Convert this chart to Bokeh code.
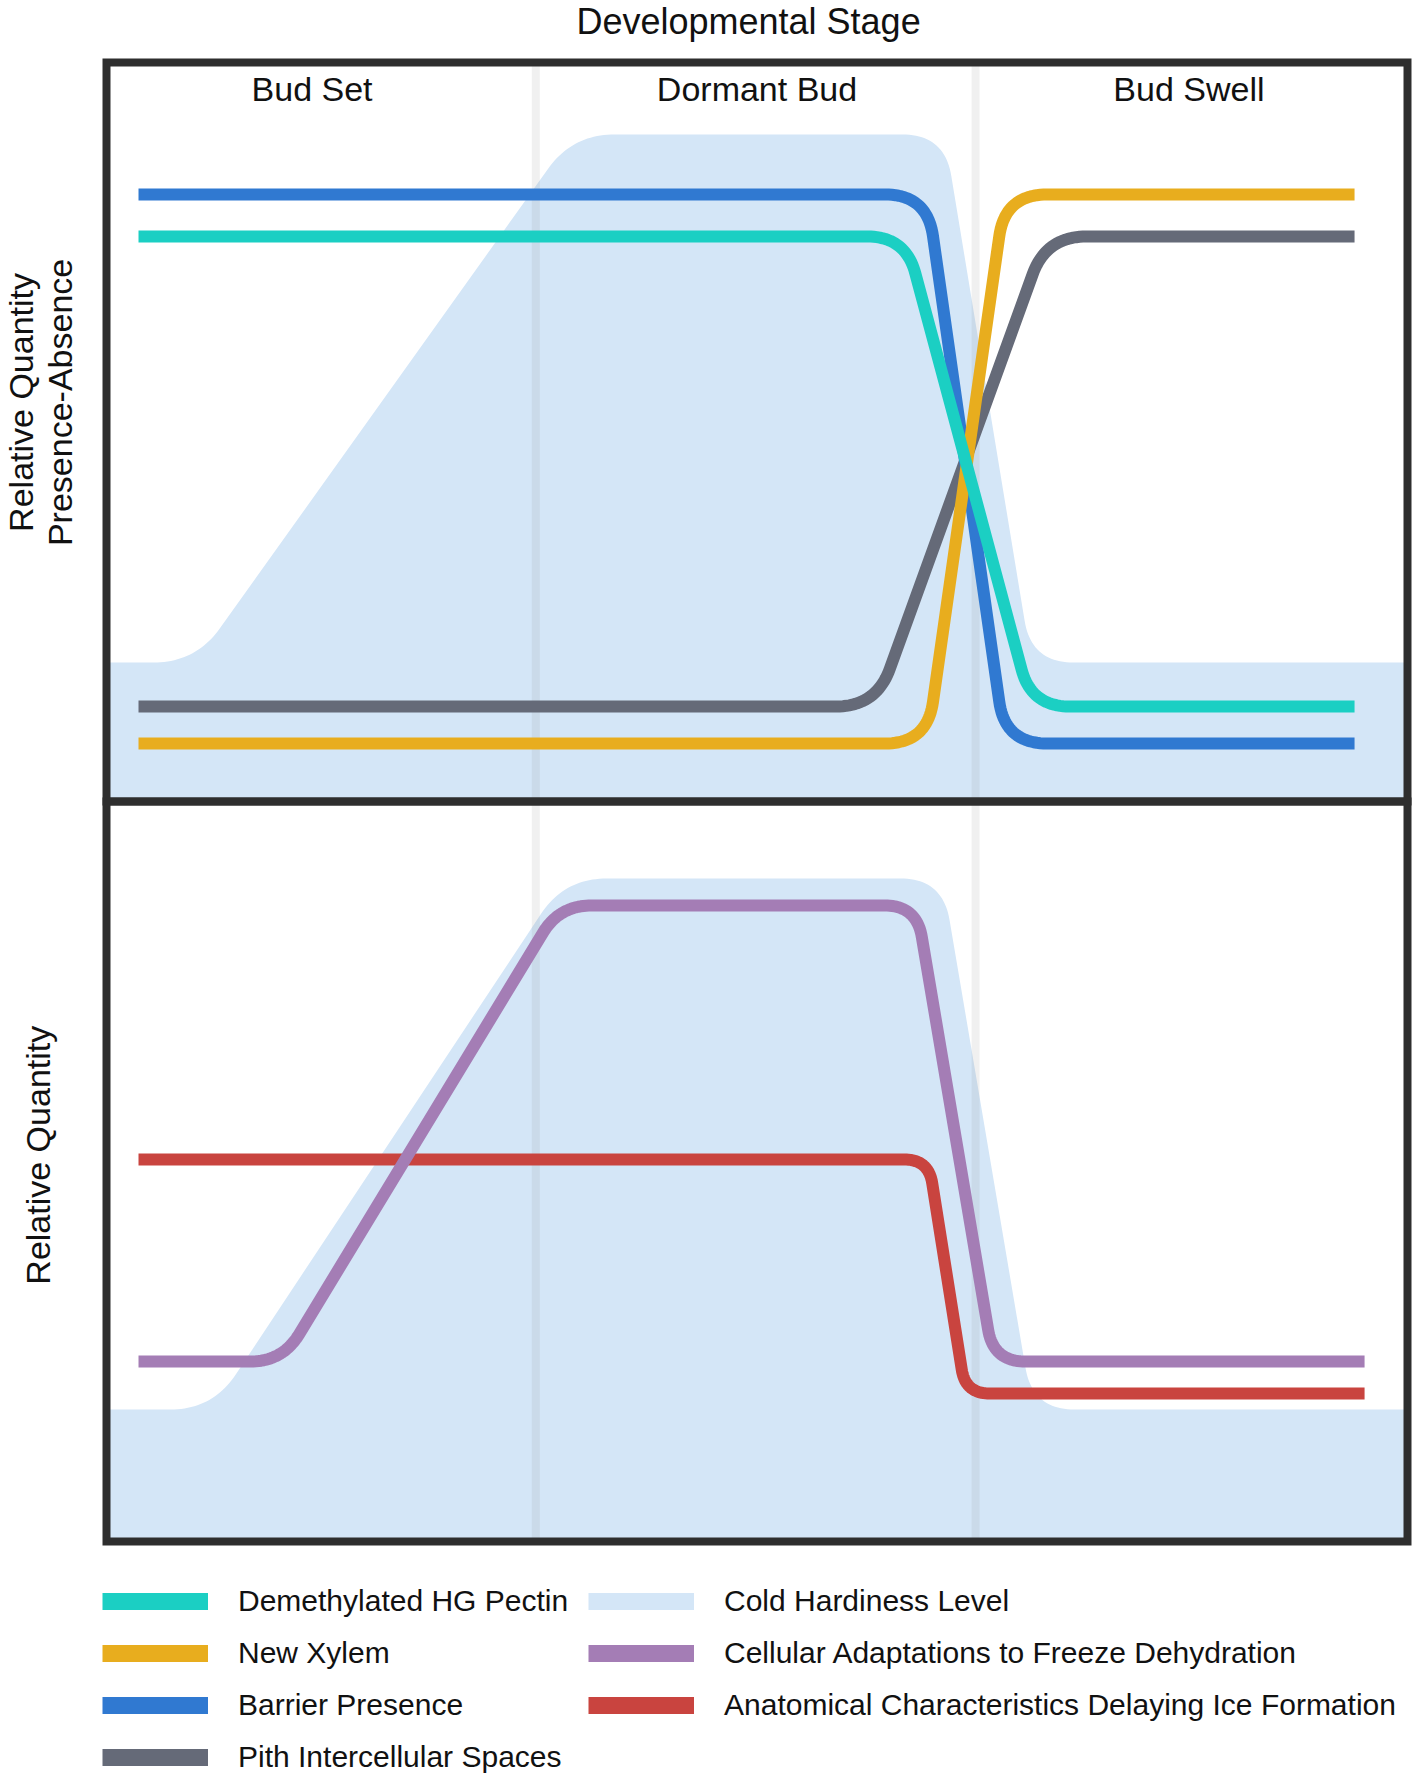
import math
import numpy as np
from bokeh.plotting import figure
from bokeh.models import Range1d, Legend, LegendItem
from bokeh.core.properties import value
from bokeh.embed import file_html
from bokeh.resources import INLINE

FONT = "Liberation Sans"

# ---------------- data (x: developmental time 0-100, y: relative level 0-100 per panel) ----------------
stage_names = ["Bud Set", "Dormant Bud", "Bud Swell"]
stage_centers = [15.8, 50.0, 83.2]
stage_bounds = [33.0, 66.8]

# upper panel: relative quantity / presence-absence
pectin_x = [2.46, 61.41, 71.10, 95.93]
pectin_y = [76.45, 76.45, 12.86, 12.86]
xylem_x = [2.46, 63.07, 69.08, 95.93]
xylem_y = [7.85, 7.85, 82.14, 82.14]
barrier_x = [2.46, 63.07, 69.08, 95.93]
barrier_y = [82.14, 82.14, 7.85, 7.85]
pith_x = [2.46, 59.16, 72.24, 95.93]
pith_y = [12.86, 12.86, 76.45, 76.45]
cold_top_x = [0.0, 6.84, 35.82, 64.41, 71.10, 100.0]
cold_top_y = [18.81, 18.81, 90.26, 90.26, 18.81, 18.81]

# lower panel: relative quantity
freeze_x = [2.46, 13.53, 34.82, 62.26, 68.18, 96.70]
freeze_y = [24.32, 24.32, 85.95, 85.95, 24.32, 24.32]
ice_x = [2.46, 63.18, 66.03, 96.70]
ice_y = [51.62, 51.62, 20.00, 20.00]
cold_bot_x = [0.0, 8.15, 35.20, 64.26, 71.18, 100.0]
cold_bot_y = [17.84, 17.84, 89.59, 89.59, 17.84, 17.84]

legend_labels = ["Demethylated HG Pectin", "New Xylem", "Barrier Presence",
                 "Pith Intercellular Spaces", "Cold Hardiness Level",
                 "Cellular Adaptations to Freeze Dehydration",
                 "Anatomical Characteristics Delaying Ice Formation"]

# ---------------- styles / layout ----------------
C_PECTIN = "#1bcfc3"
C_XYLEM = "#e8ad1e"
C_BARRIER = "#3079d1"
C_PITH = "#656a78"
C_COLD = "#d4e6f7"
C_FREEZE = "#a47db5"
C_ICE = "#c9443f"
C_FRAME = "#2e2e2e"
C_TEXT = "#111111"

CANVAS_W, CANVAS_H = 1417, 1780
X0_PX, KX = 106.0, 13.01           # canvas px of x=0, px per x unit
BOT_Y0_PX, KY_BOT = 1541.0, 7.40   # lower panel: canvas px of y=0, px per unit
TOP_Y0_PX, KY_TOP = 801.0, 7.39    # upper panel

# text anchor positions (layout, text centres)
TITLE_POS = (49.35, 205.4)         # lower-panel coordinates
STAGE_Y = 96.35                    # upper-panel coordinates
YLAB_TOP = [(-6.61, 54.0, "Relative Quantity"), (-3.61, 54.0, "Presence-Absence")]
YLAB_BOT = [(-5.23, 52.2, "Relative Quantity")]


def rounded_path(xs, ys, ky, radius, n=24):
    """Round the corners of a polyline (radius in screen pixels)."""
    px = np.asarray(xs, float) * KX
    py = np.asarray(ys, float) * ky
    out_x, out_y = [px[0]], [py[0]]
    t = np.linspace(0.0, 1.0, n)
    for i in range(1, len(px) - 1):
        v0 = np.array([px[i - 1], py[i - 1]])
        v1 = np.array([px[i], py[i]])
        v2 = np.array([px[i + 1], py[i + 1]])
        d1 = np.linalg.norm(v1 - v0)
        d2 = np.linalg.norm(v2 - v1)
        r = min(radius, d1 / 2, d2 / 2)
        a = v1 + (v0 - v1) * r / d1
        b = v1 + (v2 - v1) * r / d2
        qx = (1 - t) ** 2 * a[0] + 2 * (1 - t) * t * v1[0] + t ** 2 * b[0]
        qy = (1 - t) ** 2 * a[1] + 2 * (1 - t) * t * v1[1] + t ** 2 * b[1]
        out_x.extend(qx)
        out_y.extend(qy)
    out_x.append(px[-1])
    out_y.append(py[-1])
    return list(np.array(out_x) / KX), list(np.array(out_y) / ky)


p = figure(width=CANVAS_W, height=CANVAS_H,
           x_range=Range1d(-X0_PX / KX, (CANVAS_W - X0_PX) / KX),
           y_range=Range1d(-(CANVAS_H - BOT_Y0_PX) / KY_BOT, BOT_Y0_PX / KY_BOT),
           output_backend="svg", toolbar_location=None,
           x_axis_location=None, y_axis_location=None,
           min_border=0, min_border_left=0, min_border_right=0,
           min_border_top=0, min_border_bottom=0)
p.extra_y_ranges = {"top": Range1d(-(CANVAS_H - TOP_Y0_PX) / KY_TOP, TOP_Y0_PX / KY_TOP)}
p.grid.visible = False
p.outline_line_alpha = 0
p.background_fill_color = "white"
p.border_fill_color = "white"

panels = [("top", KY_TOP, cold_top_x, cold_top_y,
           [(pith_x, pith_y, C_PITH, 40), (barrier_x, barrier_y, C_BARRIER, 42),
            (xylem_x, xylem_y, C_XYLEM, 42), (pectin_x, pectin_y, C_PECTIN, 38)]),
          ("default", KY_BOT, cold_bot_x, cold_bot_y,
           [(ice_x, ice_y, C_ICE, 24), (freeze_x, freeze_y, C_FREEZE, 32)])]

for rng, ky, cxs, cys, lines in panels:
    # cold hardiness area
    cx, cy = rounded_path(cxs, cys, ky, 42)
    p.patch(cx + [100, 0], cy + [0, 0], fill_color=C_COLD, line_alpha=0, y_range_name=rng)
    # stage boundaries
    p.segment(x0=stage_bounds, y0=[0] * len(stage_bounds), x1=stage_bounds,
              y1=[100] * len(stage_bounds), line_width=8, line_color="#808080",
              line_alpha=0.12, y_range_name=rng)
    # series
    for xs, ys, col, rad in lines:
        lx, ly = rounded_path(xs, ys, ky, rad)
        p.line(lx, ly, line_width=12, line_color=col, line_join="round", line_cap="butt",
               y_range_name=rng)

# panel frames
for rng in ["top", "default"]:
    p.quad(left=[0], right=[100], bottom=[0], top=[100], fill_alpha=0, line_width=8,
           line_color=C_FRAME, line_join="miter", y_range_name=rng)

# texts
p.text(x=[TITLE_POS[0]], y=[TITLE_POS[1]], text=["Developmental Stage"], text_align="center",
       text_baseline="middle", text_font=value(FONT), text_font_size="36px", text_color=C_TEXT)
p.text(x=stage_centers, y=[STAGE_Y] * len(stage_centers), text=stage_names,
       text_align="center", text_baseline="middle", text_font=value(FONT),
       text_font_size="34px", text_color=C_TEXT, y_range_name="top")
p.text(x=[v[0] for v in YLAB_TOP], y=[v[1] for v in YLAB_TOP], text=[v[2] for v in YLAB_TOP],
       angle=math.pi / 2, text_align="center", text_baseline="middle",
       text_font=value(FONT), text_font_size="34px", text_color=C_TEXT, y_range_name="top")
p.text(x=[v[0] for v in YLAB_BOT], y=[v[1] for v in YLAB_BOT], text=[v[2] for v in YLAB_BOT],
       angle=math.pi / 2, text_align="center", text_baseline="middle",
       text_font=value(FONT), text_font_size="34px", text_color=C_TEXT)

# legend swatches (legend-only renderers: their data is NaN so nothing is drawn in the plot)
swatch_colors = [C_PECTIN, C_XYLEM, C_BARRIER, C_PITH, C_COLD, C_FREEZE, C_ICE]
items = []
for lab, col in zip(legend_labels, swatch_colors):
    r = p.line(x=[np.nan, np.nan], y=[np.nan, np.nan], line_width=17, line_color=col)
    items.append(LegendItem(label=lab, renderers=[r]))

legend = Legend(items=items, location=(102, 6), orientation="vertical", nrows=4,
                glyph_width=106, glyph_height=34, label_height=34, label_width=332,
                label_standoff=30, spacing=18, padding=0, margin=0,
                label_text_font=FONT, label_text_font_size="30px", label_text_color=C_TEXT,
                border_line_alpha=0, background_fill_alpha=0)
p.add_layout(legend, "center")

open("out.html", "w").write(file_html(p, INLINE))
